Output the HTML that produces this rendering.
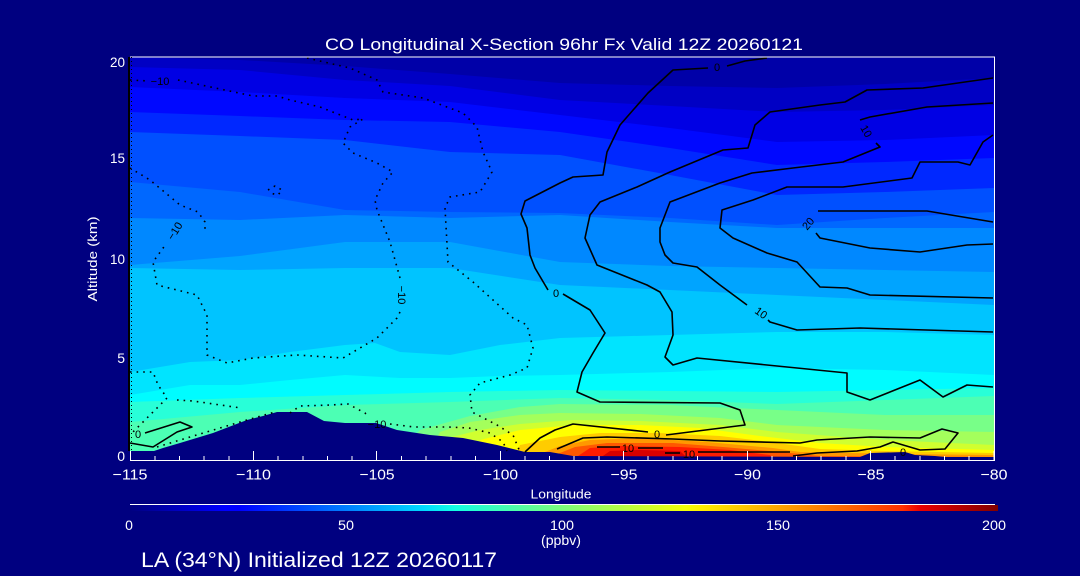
<!DOCTYPE html>
<html><head><meta charset="utf-8"><style>
html,body{margin:0;padding:0;background:#000080;}
svg{display:block;}
text{font-family:"Liberation Sans",sans-serif;}
</style></head><body>
<svg width="1080" height="576" viewBox="0 0 1080 576" xmlns="http://www.w3.org/2000/svg">
<defs>
<clipPath id="pc"><rect x="130" y="57" width="864.5" height="401"/></clipPath>
<linearGradient id="jet" x1="0" x2="1" y1="0" y2="0">
<stop offset="0" stop-color="#000080"/>
<stop offset="0.11" stop-color="#0000ff"/>
<stop offset="0.125" stop-color="#0000ff"/>
<stop offset="0.34" stop-color="#00dbff"/>
<stop offset="0.375" stop-color="#14ffe2"/>
<stop offset="0.5" stop-color="#7dff7a"/>
<stop offset="0.64" stop-color="#f2ff08"/>
<stop offset="0.66" stop-color="#ffec00"/>
<stop offset="0.89" stop-color="#ff3000"/>
<stop offset="0.91" stop-color="#e90000"/>
<stop offset="1" stop-color="#800000"/>
</linearGradient>
</defs>
<rect width="1080" height="576" fill="#000080"/>
<g clip-path="url(#pc)">
<rect x="130" y="55" width="866" height="420" fill="#0000a8"/>
<polygon fill="#0000c4" points="130,57 240,60 345,66 450,74 560,83 670,86 777,88 885,84 994,78 996,470 130,470"/>
<polygon fill="#0000e4" points="130,67 240,70 345,80 450,86 560,100 670,106 777,112 885,110 994,105 996,470 130,470"/>
<polygon fill="#0008ff" points="130,87 240,92 345,98 450,102 560,115 670,128 777,142 885,140 994,135 996,470 130,470"/>
<polygon fill="#0028ff" points="130,112 240,116 345,120 450,122 560,132 670,148 777,165 885,162 994,158 996,470 130,470"/>
<polygon fill="#0050ff" points="130,132 240,136 345,140 450,152 560,155 670,175 777,195 885,192 994,188 996,470 130,470"/>
<polygon fill="#0068ff" points="130,182 240,192 345,210 450,212 560,213 670,218 777,225 885,218 994,212 996,470 130,470"/>
<polygon fill="#0088ff" points="130,218 240,220 345,215 450,218 560,215 670,222 777,228 885,228 994,228 996,470 130,470"/>
<polygon fill="#00a4ff" points="130,265 240,256 345,242 450,242 560,262 670,266 777,268 885,270 994,272 996,470 130,470"/>
<polygon fill="#00c4ff" points="130,268 240,270 345,268 450,268 560,285 670,290 777,295 885,300 994,305 996,470 130,470"/>
<polygon fill="#00e4ff" points="130,372 190,362 240,360 290,352 345,345 375,343 400,352 450,355 500,345 560,338 670,335 777,332 885,332 994,335 996,470 130,470"/>
<polygon fill="#00fcff" points="130,395 190,385 240,385 290,380 345,375 400,378 450,378 500,376 560,375 670,372 777,368 885,370 994,375 996,470 130,470"/>
<polygon fill="#28ffd8" points="130,402 240,398 345,395 450,392 560,390 670,391 777,392 885,390 994,388 996,470 130,470"/>
<polygon fill="#4cffb4" points="130,422 240,412 345,405 450,402 560,398 670,400 777,404 885,400 994,396 996,470 130,470"/>
<polygon fill="#78ff88" points="130,470 380,470 420,430 470,416 520,407 560,404 670,405 777,410 885,415 994,415 996,470"/>
<polygon fill="#a4ff5c" points="130,470 420,470 440,432 470,422 520,415 560,413 640,414 720,418 777,425 885,430 994,432 996,470"/>
<polygon fill="#d0ff30" points="130,470 430,470 440,440 480,430 520,424 573,420 640,421 720,425 777,432 885,440 994,445 996,470"/>
<polygon fill="#ffff00" points="130,470 470,470 480,440 520,430 573,425 640,425 700,428 760,436 820,443 885,447 994,450 996,470"/>
<polygon fill="#ffcc00" points="510,470 520,445 560,437 600,433 660,433 720,436 770,442 820,449 885,451 994,453 996,470"/>
<polygon fill="#ff9800" points="540,470 545,452 560,446 590,440 640,438 707,442 773,448 800,452 900,454 994,455 996,470"/>
<polygon fill="#ff5800" points="552,470 555,455 575,447 607,443 673,443 723,447 780,452 820,456 994,457 996,470"/>
<polygon fill="#ff1c00" points="572,470 575,458 590,448 620,446 680,447 730,450 770,455 785,470"/>
<polygon fill="#d80000" points="598,470 600,458 610,451 640,450 680,451 700,470"/>
<polygon fill="#000080" points="130,451 154,451 163,448 180,443 213,433 247,420 263,416 277,412 307,412 324,421 345,423 376,423 397,430 430,435 463,438 497,445 525,452 550,452 573,456 860,457 870,453 905,452 915,455 935,456 945,457 996,457 996,475 130,475"/>
</g>
<g fill="none" stroke="#000" stroke-width="1.6" stroke-linejoin="round">
<polyline points="767,58 745,61 727,66"/>
<polyline points="708,68 673,70 648,93 620,125 607,152 603,175 573,177 560,183 525,201 521,214 527,228 530,255 535,268 548,290"/>
<polyline points="563,294 590,310 605,333 593,353 582,372 577,392 600,402 720,403 740,410 745,425 666,435"/>
<polyline points="648,432 573,424 555,430 540,438 525,452"/>
<polyline points="993,78 923,88 867,90 845,102 820,105 770,112 755,125 748,148 723,150 670,172 637,187 600,202 590,215 585,238 597,265 647,285 660,292 672,312 673,335 665,357 673,365 697,358 847,373 847,392 870,400 920,380 943,397 967,385 993,387"/>
<polyline points="993,103 927,107 870,117 860,120"/>
<polyline points="876,143 880,147 843,162 793,168 752,173 720,183 670,202 660,228 660,242 665,255 673,263 697,267 720,285 747,305"/>
<polyline points="768,320 770,322 797,330 860,328 993,332"/>
<polyline points="993,135 983,142 970,165 958,162 920,162 912,178 843,187 787,187 753,200 722,210 720,228 733,238 767,253 797,262 820,287 847,288 870,295 993,298"/>
<polyline points="993,222 927,211 818,211"/>
<polyline points="816,233 820,238 870,248 920,252 967,245 993,244"/>
<polyline points="557,449 583,438 607,437 673,439 720,441 800,443 817,440 870,437 920,438 942,429 958,433 945,449 920,450 893,442 880,447 857,451 817,453 793,456"/>
<polyline points="597,447 620,447"/>
<polyline points="638,448 663,448"/>
<polyline points="665,453 680,453"/>
<polyline points="698,452 790,452"/>
<polyline points="130,443 153,447 177,432 192,427 180,422 145,433"/>
</g>
<g fill="none" stroke="#000" stroke-width="1.6" stroke-dasharray="1.6,5" stroke-linecap="butt">
<polyline points="130,80 148,81"/>
<polyline points="178,80 220,89 253,96 277,96 290,100 320,107 353,120 363,119 350,127 343,143 353,153 377,163 393,172 383,183 375,200 377,210 390,242 400,278"/>
<polyline points="400,312 397,318 377,338 343,358 297,355 253,358 227,363 207,355 207,315 197,295 157,285 153,262 166,244"/>
<polyline points="130,168 150,180 180,205 198,212 205,222 205,230"/>
<polyline points="268,190 275,186 282,190 278,195 270,193"/>
<polyline points="307,58 350,68 377,80 383,92 423,98 463,113 477,127 483,152 492,172 480,192 450,197 445,208 448,262 473,282 513,318 527,325 533,348 527,368 510,375 480,383 470,395 472,412 497,425 513,435 520,452"/>
<polyline points="130,372 153,372 158,385 167,398 150,415 140,425 133,432"/>
<polyline points="177,400 193,401 241,408"/>
<polyline points="290,413 300,406 331,405 348,404 365,413 368,416"/>
<polyline points="390,424 414,427 448,427 469,428 490,433 503,442 507,451"/>
<polyline points="157,447 190,437 220,428 247,420 275,412"/>
</g>
<g fill="#000" font-size="11">
<text x="160" y="85" text-anchor="middle">−10</text>
<text transform="translate(178,233) rotate(-58)" text-anchor="middle">−10</text>
<text transform="translate(398,295) rotate(90)" text-anchor="middle">−10</text>
<text x="377" y="428" text-anchor="middle">−10</text>
<text x="556" y="297" text-anchor="middle">0</text>
<text x="717" y="71" text-anchor="middle">0</text>
<text x="657" y="438" text-anchor="middle">0</text>
<text x="138" y="438" text-anchor="middle">0</text>
<text x="903" y="456" text-anchor="middle">0</text>
<text transform="translate(863,133) rotate(60)" text-anchor="middle">10</text>
<text transform="translate(811,226) rotate(-50)" text-anchor="middle">20</text>
<text transform="translate(759,316) rotate(35)" text-anchor="middle">10</text>
<text x="628" y="452" text-anchor="middle">10</text>
<text x="689" y="458" text-anchor="middle">10</text>
</g>
<!-- axes -->
<line x1="130" y1="57" x2="995" y2="57" stroke="#fff" stroke-width="1"/>
<line x1="994.5" y1="57" x2="994.5" y2="460" stroke="#fff" stroke-width="1"/>
<line x1="130" y1="460.5" x2="995" y2="460.5" stroke="#fff" stroke-width="1"/>
<line x1="129" y1="57" x2="129" y2="451" stroke="#000" stroke-width="2"/>
<line x1="131.5" y1="57" x2="131.5" y2="451" stroke="#000" stroke-width="1" stroke-dasharray="1,3"/>
<g stroke="#fff" stroke-width="1">
<line x1="130.5" y1="451" x2="130.5" y2="460"/>
<line x1="253.5" y1="451" x2="253.5" y2="460"/>
<line x1="376.5" y1="451" x2="376.5" y2="460"/>
<line x1="500.5" y1="451" x2="500.5" y2="460"/>
<line x1="623.5" y1="451" x2="623.5" y2="460"/>
<line x1="747.5" y1="451" x2="747.5" y2="460"/>
<line x1="870.5" y1="451" x2="870.5" y2="460"/>
<line x1="994" y1="451" x2="994" y2="460"/>
<line x1="155" y1="456" x2="155" y2="460"/><line x1="179.5" y1="456" x2="179.5" y2="460"/><line x1="204" y1="456" x2="204" y2="460"/><line x1="229" y1="456" x2="229" y2="460"/>
<line x1="278" y1="456" x2="278" y2="460"/><line x1="303" y1="456" x2="303" y2="460"/><line x1="327.5" y1="456" x2="327.5" y2="460"/><line x1="352" y1="456" x2="352" y2="460"/>
<line x1="401.5" y1="456" x2="401.5" y2="460"/><line x1="426" y1="456" x2="426" y2="460"/><line x1="451" y1="456" x2="451" y2="460"/><line x1="475.5" y1="456" x2="475.5" y2="460"/>
<line x1="525" y1="456" x2="525" y2="460"/><line x1="549.5" y1="456" x2="549.5" y2="460"/><line x1="574" y1="456" x2="574" y2="460"/><line x1="599" y1="456" x2="599" y2="460"/>
<line x1="648" y1="456" x2="648" y2="460"/><line x1="673" y1="456" x2="673" y2="460"/><line x1="697.5" y1="456" x2="697.5" y2="460"/><line x1="722" y1="456" x2="722" y2="460"/>
<line x1="772" y1="456" x2="772" y2="460"/><line x1="796.5" y1="456" x2="796.5" y2="460"/><line x1="821" y1="456" x2="821" y2="460"/><line x1="846" y1="456" x2="846" y2="460"/>
<line x1="895" y1="456" x2="895" y2="460"/><line x1="920" y1="456" x2="920" y2="460"/><line x1="944.5" y1="456" x2="944.5" y2="460"/><line x1="969" y1="456" x2="969" y2="460"/>
</g>
<g fill="#fff" font-size="15" text-anchor="middle">
<text x="130" y="479.5" textLength="35" lengthAdjust="spacingAndGlyphs">−115</text>
<text x="253.5" y="479.5" textLength="35" lengthAdjust="spacingAndGlyphs">−110</text>
<text x="377" y="479.5" textLength="35" lengthAdjust="spacingAndGlyphs">−105</text>
<text x="500.5" y="479.5" textLength="35" lengthAdjust="spacingAndGlyphs">−100</text>
<text x="624" y="479.5" textLength="27" lengthAdjust="spacingAndGlyphs">−95</text>
<text x="747.5" y="479.5" textLength="27" lengthAdjust="spacingAndGlyphs">−90</text>
<text x="871" y="479.5" textLength="27" lengthAdjust="spacingAndGlyphs">−85</text>
<text x="994" y="479.5" textLength="27" lengthAdjust="spacingAndGlyphs">−80</text>
</g>
<g fill="#fff" font-size="14" text-anchor="end">
<text x="125" y="67" textLength="15" lengthAdjust="spacingAndGlyphs">20</text>
<text x="125" y="163" textLength="15" lengthAdjust="spacingAndGlyphs">15</text>
<text x="125" y="264" textLength="15" lengthAdjust="spacingAndGlyphs">10</text>
<text x="125" y="363">5</text>
<text x="125" y="461">0</text>
</g>
<text x="561" y="498.5" fill="#fff" font-size="13" text-anchor="middle" textLength="61" lengthAdjust="spacingAndGlyphs">Longitude</text>
<text transform="translate(97,259) rotate(-90)" fill="#fff" font-size="13" text-anchor="middle" textLength="85" lengthAdjust="spacingAndGlyphs">Altitude (km)</text>
<text x="325" y="50" fill="#fff" font-size="17" textLength="478" lengthAdjust="spacingAndGlyphs">CO Longitudinal X-Section 96hr  Fx Valid 12Z 20260121</text>
<!-- colorbar -->
<line x1="130" y1="504.5" x2="995" y2="504.5" stroke="#fff" stroke-width="1"/>
<rect x="130" y="505" width="868" height="6" fill="url(#jet)"/>
<g fill="#fff" font-size="14" text-anchor="middle">
<text x="129" y="530">0</text>
<text x="346" y="530" textLength="16" lengthAdjust="spacingAndGlyphs">50</text>
<text x="562" y="530" textLength="24" lengthAdjust="spacingAndGlyphs">100</text>
<text x="778" y="530" textLength="24" lengthAdjust="spacingAndGlyphs">150</text>
<text x="994" y="530" textLength="24" lengthAdjust="spacingAndGlyphs">200</text>
<text x="561" y="545" textLength="40" lengthAdjust="spacingAndGlyphs">(ppbv)</text>
</g>
<text x="141" y="567" fill="#fff" font-size="21" textLength="356" lengthAdjust="spacingAndGlyphs">LA (34°N) Initialized 12Z 20260117</text>
</svg>
</body></html>
